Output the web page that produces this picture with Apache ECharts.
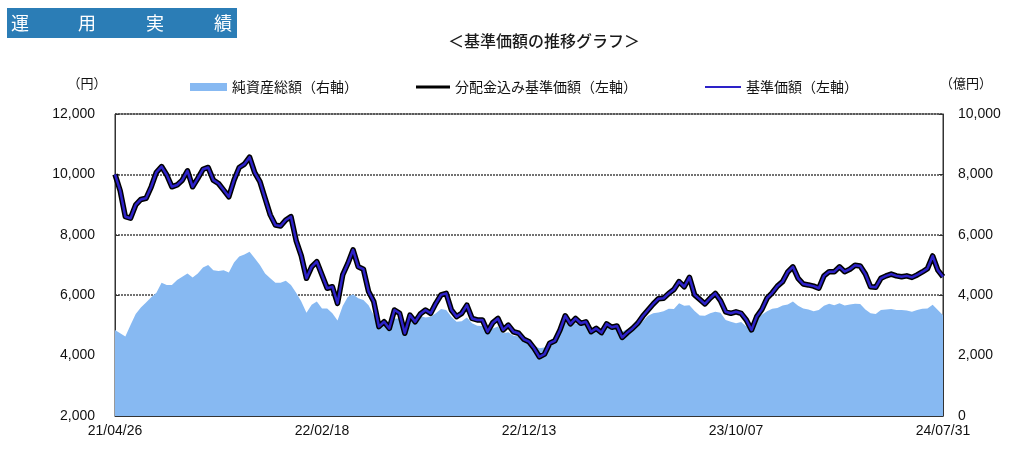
<!DOCTYPE html>
<html>
<head>
<meta charset="utf-8">
<script src="https://cdn.jsdelivr.net/npm/echarts@6/dist/echarts.min.js"></script>
<style>
html,body{margin:0;padding:0;background:#fff;}
#chart{width:1024px;height:450px;}
</style>
</head>
<body>
<div id="chart"></div>
<script>
// X tick labels (equally spaced across the period)
const xTickLabels = ['21/04/26', '22/02/18', '22/12/13', '23/10/07', '24/07/31'];

// 基準価額 (yen), sampled at 161 evenly spaced points
const nav = [
  10000, 9460, 8600, 8550, 8990, 9170, 9210, 9590, 10070, 10260,
  9980, 9590, 9650, 9810, 10120, 9590, 9870, 10170, 10230, 9810,
  9700, 9480, 9260, 9810, 10230, 10340, 10570, 10060, 9760, 9210,
  8660, 8320, 8290, 8490, 8600, 7810, 7300, 6560, 6940, 7110,
  6670, 6230, 6280, 5730, 6670, 7050, 7500, 6940, 6860, 6120,
  5790, 4960, 5120, 4900, 5510, 5400, 4740, 5340, 5120, 5380,
  5510, 5400, 5730, 6010, 6060, 5510, 5290, 5400, 5670, 5230,
  5180, 5180, 4790, 5090, 5230, 4850, 5010, 4790, 4740, 4540,
  4460, 4240, 3960, 4050, 4410, 4490, 4850, 5320, 5050, 5230,
  5070, 5120, 4790, 4900, 4760, 5050, 4940, 4980, 4600, 4760,
  4900, 5070, 5310, 5510, 5710, 5880, 5900, 6060, 6190, 6450,
  6280, 6590, 6010, 5860, 5710, 5900, 6060, 5820, 5450, 5400,
  5450, 5400, 5180, 4850, 5290, 5530, 5900, 6080, 6300, 6450,
  6770, 6940, 6560, 6370, 6340, 6300, 6230, 6640, 6780, 6780,
  6940, 6780, 6860, 6990, 6970, 6700, 6280, 6260, 6560, 6640,
  6700, 6640, 6610, 6640, 6590, 6670, 6770, 6880, 7300, 6830,
  6610
];

// 分配金込み基準価額 (yen) — coincides with 基準価額 in the picture
const navWithDist = nav.slice();

// 純資産総額 (億円)
const netAssets = [
  2850, 2740, 2630, 3010, 3380, 3590, 3760, 3930, 4080, 4410,
  4340, 4340, 4500, 4610, 4720, 4590, 4720, 4920, 5000, 4830,
  4800, 4830, 4750, 5080, 5280, 5350, 5440, 5220, 5000, 4720,
  4560, 4410, 4410, 4480, 4340, 4080, 3790, 3420, 3680, 3790,
  3560, 3560, 3400, 3160, 3640, 3950, 4030, 3900, 3840, 3670,
  3340, 3160, 3120, 3120, 3230, 3230, 2980, 3180, 3290, 3310,
  3260, 3290, 3400, 3540, 3510, 3290, 3120, 3140, 3260, 3070,
  2990, 2980, 2760, 2900, 2960, 2740, 2770, 2660, 2630, 2480,
  2350, 2330, 2240, 2270, 2460, 2630, 2810, 3090, 3030, 3070,
  3020, 3010, 2870, 2890, 2850, 2990, 2940, 2980, 2800, 2870,
  2960, 3030, 3140, 3320, 3400, 3430, 3470, 3550, 3540, 3730,
  3650, 3670, 3480, 3330, 3320, 3400, 3450, 3420, 3180, 3120,
  3070, 3110, 2960, 2980, 3200, 3350, 3470, 3550, 3580, 3660,
  3690, 3790, 3650, 3560, 3530, 3470, 3510, 3650, 3720, 3670,
  3730, 3660, 3690, 3720, 3710, 3530, 3400, 3380, 3510, 3530,
  3540, 3510, 3510, 3490, 3450, 3510, 3550, 3560, 3680, 3510,
  3340
];

const leftTicks = ['2,000', '4,000', '6,000', '8,000', '10,000', '12,000'];
const rightTicks = ['0', '2,000', '4,000', '6,000', '8,000', '10,000'];

const lastIdx = nav.length - 1;
const step = lastIdx / (xTickLabels.length - 1);
const toPairs = arr => arr.map((v, i) => [i, v]);

const textColor = '#111';
const jp = '"Noto Sans CJK JP", "Noto Sans", sans-serif';
const num = '"Liberation Sans", Arial, sans-serif';

const chart = echarts.init(document.getElementById('chart'), null, {renderer: 'canvas'});

const headerChars = ['運', '用', '実', '績'];
const headerX = [20, 87, 155, 223];

const option = {
  animation: false,
  backgroundColor: '#fff',
  grid: {
    left: 115, right: 81, top: 114, bottom: 34,
    show: true, borderColor: '#333', borderWidth: 1, backgroundColor: 'transparent'
  },
  graphic: [
    { type: 'rect', left: 7, top: 8, shape: {width: 230, height: 30}, style: {fill: '#2b7db6'}, z: 10 },
    ...headerChars.map((c, k) => ({
      type: 'text', x: headerX[k], y: 23, z: 11,
      style: { text: c, fill: '#fff', font: '18px ' + jp, textAlign: 'center', textVerticalAlign: 'middle' }
    })),
    { type: 'text', x: 544, y: 41, z: 11,
      style: { text: '＜基準価額の推移グラフ＞', fill: '#1a1a1a', font: '500 16px ' + jp, textAlign: 'center', textVerticalAlign: 'middle' } },
    { type: 'text', x: 87, y: 83, z: 11,
      style: { text: '（円）', fill: textColor, font: '13px ' + jp, textAlign: 'center', textVerticalAlign: 'middle' } },
    { type: 'text', x: 966, y: 83, z: 11,
      style: { text: '（億円）', fill: textColor, font: '13px ' + jp, textAlign: 'center', textVerticalAlign: 'middle' } }
  ],
  legend: [
    { data: [{name: '純資産総額（右軸）', icon: 'rect'}], left: 185, top: 75, itemWidth: 37, itemHeight: 8, itemGap: 0,
      textStyle: {color: textColor, fontSize: 14, fontFamily: jp}, selectedMode: false },
    { data: [{name: '分配金込み基準価額（左軸）', icon: 'rect'}], left: 411, top: 75, itemWidth: 34, itemHeight: 3, itemGap: 0,
      textStyle: {color: textColor, fontSize: 14, fontFamily: jp}, selectedMode: false },
    { data: [{name: '基準価額（左軸）', icon: 'rect'}], left: 700, top: 75, itemWidth: 36, itemHeight: 2, itemGap: 0,
      textStyle: {color: textColor, fontSize: 14, fontFamily: jp}, selectedMode: false }
  ],
  xAxis: {
    type: 'value', min: 0, max: lastIdx, interval: step,
    axisLine: {show: true, lineStyle: {color: '#333', width: 1}},
    axisTick: {show: true, inside: true, length: 4, lineStyle: {color: '#333'}},
    splitLine: {show: false},
    axisLabel: {
      color: textColor, fontSize: 14, fontFamily: num, margin: 8,
      formatter: v => xTickLabels[Math.round(v / step)] || ''
    }
  },
  yAxis: [
    {
      type: 'value', min: 2000, max: 12000, interval: 2000, position: 'left',
      axisLine: {show: true, lineStyle: {color: '#333'}},
      axisTick: {show: true, inside: true, length: 4, lineStyle: {color: '#333'}},
      splitLine: {show: true, lineStyle: {color: '#444', width: 1.5, type: [2, 1]}},
      axisLabel: {
        color: textColor, fontSize: 14, fontFamily: num, margin: 20,
        formatter: v => leftTicks[Math.round((v - 2000) / 2000)]
      }
    },
    {
      type: 'value', min: 0, max: 10000, interval: 2000, position: 'right',
      axisLine: {show: true, lineStyle: {color: '#333'}},
      axisTick: {show: true, inside: true, length: 4, lineStyle: {color: '#333'}},
      splitLine: {show: false},
      axisLabel: {
        color: textColor, fontSize: 14, fontFamily: num, margin: 15,
        formatter: v => rightTicks[Math.round(v / 2000)]
      }
    }
  ],
  series: [
    {
      name: '純資産総額（右軸）', type: 'line', yAxisIndex: 1,
      data: toPairs(netAssets), showSymbol: false, symbol: 'none',
      color: '#87b9f2',
      lineStyle: {width: 0, color: '#87b9f2'},
      areaStyle: {color: '#87b9f2', opacity: 1},
      z: 1
    },
    {
      name: '分配金込み基準価額（左軸）', type: 'line', yAxisIndex: 0,
      data: toPairs(navWithDist), showSymbol: false, symbol: 'none',
      color: '#000',
      lineStyle: {width: 5.5, color: '#000', join: 'round'},
      z: 3
    },
    {
      name: '基準価額（左軸）', type: 'line', yAxisIndex: 0,
      data: toPairs(nav), showSymbol: false, symbol: 'none',
      color: '#2d22c8',
      lineStyle: {width: 2.5, color: '#2d22c8', join: 'round'},
      z: 4
    }
  ]
};

chart.setOption(option);
</script>
</body>
</html>
